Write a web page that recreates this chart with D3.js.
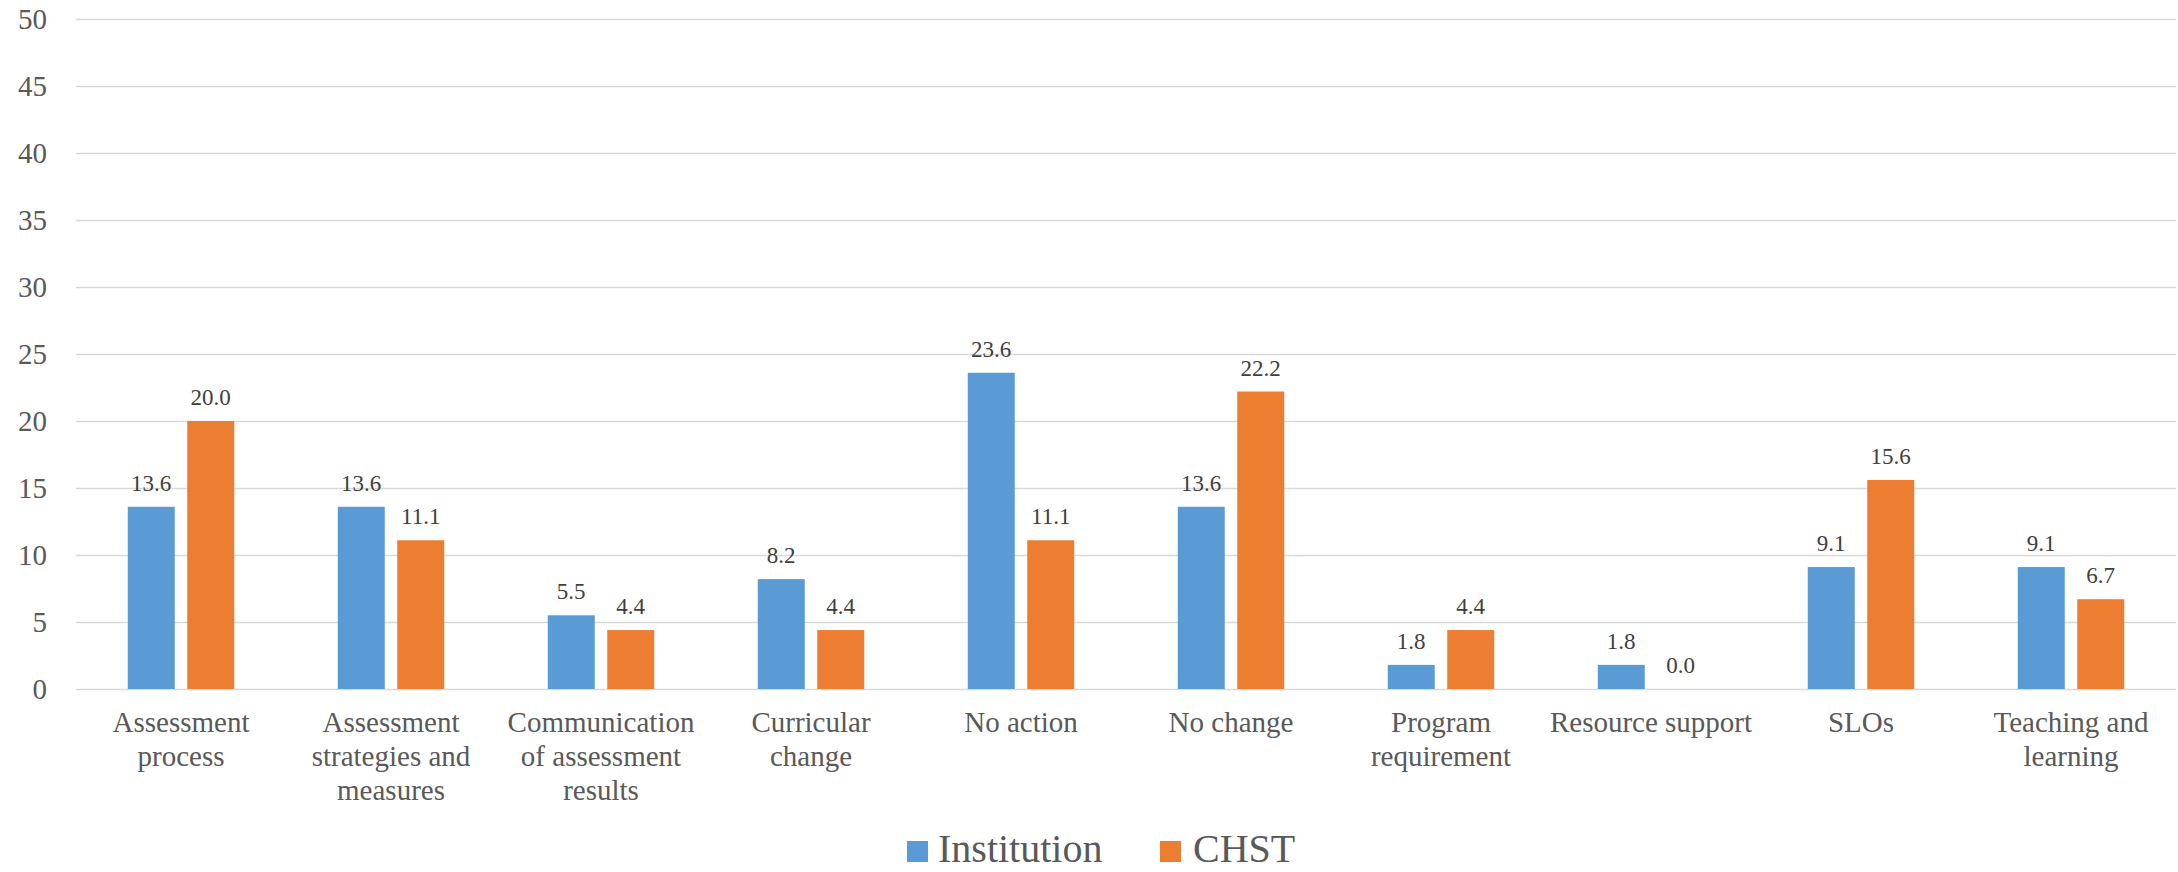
<!DOCTYPE html>
<html>
<head>
<meta charset="utf-8">
<script src="https://cdn.jsdelivr.net/npm/d3@7"></script>
<style>
  html, body { margin: 0; padding: 0; background: #fff; }
  svg { display: block; }
</style>
</head>
<body>
<svg id="chart" width="2178" height="872" font-family="Liberation Serif"></svg>
<script>
const categories = [
  "Assessment process",
  "Assessment strategies and measures",
  "Communication of assessment results",
  "Curricular change",
  "No action",
  "No change",
  "Program requirement",
  "Resource support",
  "SLOs",
  "Teaching and learning"
];
const categoryLines = [
  ["Assessment", "process"],
  ["Assessment", "strategies and", "measures"],
  ["Communication", "of assessment", "results"],
  ["Curricular", "change"],
  ["No action"],
  ["No change"],
  ["Program", "requirement"],
  ["Resource support"],
  ["SLOs"],
  ["Teaching and", "learning"]
];
const seriesNames = ["Institution", "CHST"];
const institution = [13.6, 13.6, 5.5, 8.2, 23.6, 13.6, 1.8, 1.8, 9.1, 9.1];
const chst = [20.0, 11.1, 4.4, 4.4, 11.1, 22.2, 4.4, 0.0, 15.6, 6.7];
const yTicks = [0, 5, 10, 15, 20, 25, 30, 35, 40, 45, 50];
const colors = ["#5B9BD5", "#ED7D31"];

(function () {
const svg = d3.select("#chart");
const mLeft = 76, mRight = 2176, mTop = 19, mBottom = 689;
const FONT = "Liberation Serif";

const x0 = d3.scaleBand().domain(categories).range([mLeft, mRight])
  .paddingInner(0.493).paddingOuter(0.2465);
const x1 = d3.scaleBand().domain(seriesNames).range([0, x0.bandwidth()])
  .paddingInner(0.21).paddingOuter(0);
const y = d3.scaleLinear().domain([0, 50]).range([mBottom, mTop]);

// gridlines + y axis
const yAxis = d3.axisLeft(y).tickValues(yTicks).tickFormat(d3.format("d"))
  .tickSize(-(mRight - mLeft)).tickPadding(29);
const gy = svg.append("g").attr("transform", `translate(${mLeft},0)`).call(yAxis)
  .attr("font-family", FONT).attr("font-size", 29);
gy.select(".domain").remove();
gy.selectAll(".tick line").attr("stroke", "#d9d9d9").attr("stroke-width", 1.5);
gy.selectAll(".tick text").attr("fill", "#595959")
  .attr("font-family", FONT).attr("font-size", 29);

const data = categories.map((c, i) => ({
  cat: c, vals: [
    {s: seriesNames[0], v: institution[i]},
    {s: seriesNames[1], v: chst[i]}
  ]
}));

const groups = svg.append("g").selectAll("g").data(data).join("g")
  .attr("transform", d => `translate(${x0(d.cat)},0)`);

groups.selectAll("rect").data(d => d.vals).join("rect")
  .attr("x", d => x1(d.s))
  .attr("width", x1.bandwidth())
  .attr("y", d => y(d.v))
  .attr("height", d => y(0) - y(d.v))
  .attr("fill", (d, i) => colors[i]);

groups.selectAll("text.val").data(d => d.vals).join("text")
  .attr("class", "val")
  .attr("x", d => x1(d.s) + x1.bandwidth() / 2)
  .attr("y", d => y(d.v) - 16)
  .attr("text-anchor", "middle")
  .attr("fill", "#404040")
  .attr("font-family", FONT).attr("font-size", 23)
  .text(d => d3.format(".1f")(d.v));

// category labels
const xl = svg.append("g");
categories.forEach((c, i) => {
  const cx = x0(c) + x0.bandwidth() / 2;
  const t = xl.append("text")
    .attr("x", cx)
    .attr("y", 732)
    .attr("text-anchor", "middle")
    .attr("fill", "#595959")
    .attr("font-family", FONT).attr("font-size", 29);
  categoryLines[i].forEach((line, j) => {
    t.append("tspan").attr("x", cx).attr("y", 732 + j * 34).text(line);
  });
});

// legend
const legend = svg.append("g");
const legendItems = [
  {name: seriesNames[0], sx: 907, tx: 938},
  {name: seriesNames[1], sx: 1160, tx: 1193}
];
legendItems.forEach((d, i) => {
  legend.append("rect").attr("x", d.sx).attr("y", 841).attr("width", 21).attr("height", 21)
    .attr("fill", colors[i]);
  legend.append("text").attr("x", d.tx).attr("y", 862)
    .attr("fill", "#595959")
    .attr("font-family", FONT).attr("font-size", 40)
    .text(d.name);
});
})();
</script>
</body>
</html>
